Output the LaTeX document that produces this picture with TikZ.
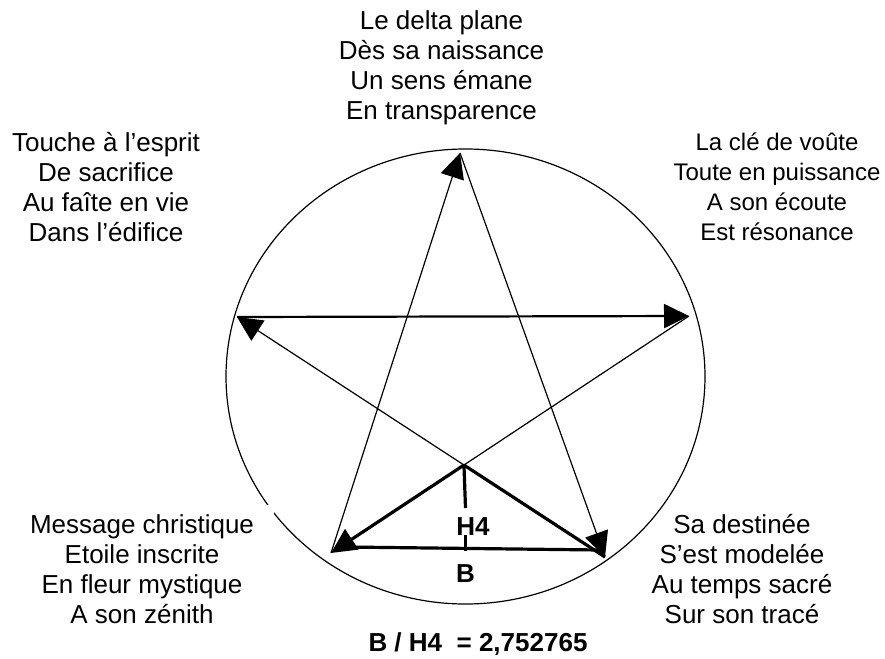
\documentclass[tikz,border=0pt]{standalone}
\usepackage{fontspec}
\setmainfont{Liberation Sans}
\usetikzlibrary{arrows.meta}
\begin{document}
\begin{tikzpicture}[x=1pt,y=-1pt,
  thin line/.style={line width=1.2pt},
  thick line/.style={line width=3.2pt},
  mid line/.style={line width=2.2pt},
  tip/.style={-{Triangle[length=25pt,width=24pt]}},
  verse/.style={align=center,inner sep=0pt,anchor=north,font=\fontsize{26}{30}\selectfont},
  label/.style={inner sep=0pt,anchor=base,font=\fontsize{26}{30}\selectfont\bfseries}]
\useasboundingbox (0,0) rectangle (885,658);
% circle
\draw[thin line] (465.5,376.5) ellipse [x radius=239.5, y radius=227.5];
% vertices
\coordinate (T) at (460,153);
\coordinate (L) at (237,317);
\coordinate (R) at (689,316);
\coordinate (BL) at (331,553);
\coordinate (BR) at (605,557);
\coordinate (A) at (intersection of BR--L and R--BL);
\coordinate (b1) at (345,547);
\coordinate (b2) at (600,550);
\coordinate (v1) at (465.5,508);
\coordinate (v2) at (465.5,535);
\coordinate (v3) at (465.5,551);
% pentagram
\draw[thin line,tip] (BL) -- (T);
\draw[thin line,tip] (T) -- (BR);
\draw[thick line] (BR) -- (A);
\draw[thin line,tip] (A) -- (L);
\draw[mid line,tip] (L) -- (R);
\draw[thin line] (R) -- (A);
\draw[thick line,tip] (A) -- (BL);
\draw[thick line] (b1) -- (b2);
\draw[thick line] (A) -- (v1);
\draw[thick line] (v2) -- (v3);
% labels
\node[label] (h4) at (473,535) {H4};
\node[label] (b) at (465.5,582) {B};
\node[label] (ratio) at (478,651) {B / H4\ \ = 2,752765};
% verses
\node[verse] (top) at (441.5,10.5) {Le delta plane\\Dès sa naissance\\Un sens émane\\En transparence};
\node[verse] (tl) at (106,132) {Touche à l’esprit\\De sacrifice\\Au faîte en vie\\Dans l’édifice};
\node[verse,font=\fontsize{24}{30}\selectfont] (tr) at (777,133) {La clé de voûte\\Toute en puissance\\A son écoute\\Est résonance};
\node[verse,fill=white,inner xsep=20pt,inner ysep=9pt] (bl) at (142,505) {Message christique\\Etoile inscrite\\En fleur mystique\\A son zénith};
\node[verse] (br) at (742,514) {Sa destinée\\S’est modelée\\Au temps sacré\\Sur son tracé};
\end{tikzpicture}
\end{document}
